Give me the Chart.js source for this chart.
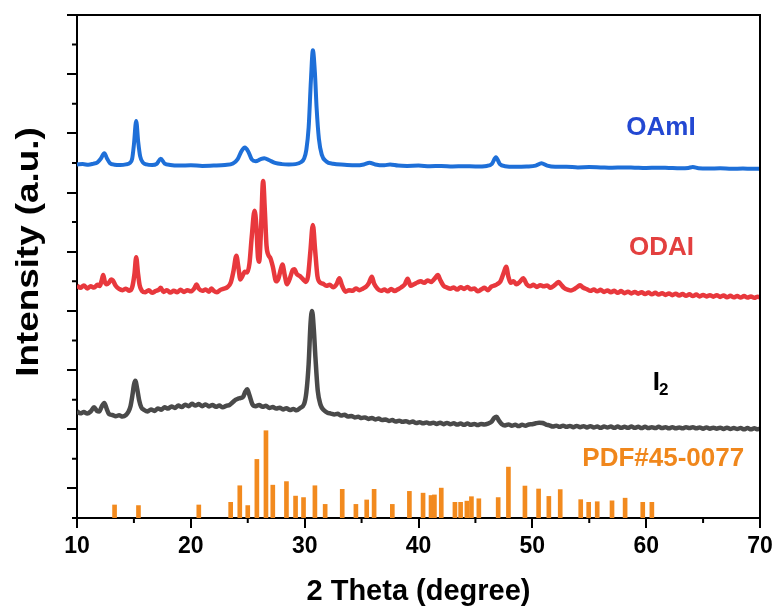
<!DOCTYPE html>
<html>
<head>
<meta charset="utf-8">
<script src="https://cdn.jsdelivr.net/npm/chart.js@4"></script>
<style>
  html, body { margin: 0; padding: 0; background: #fff; }
  #wrap { width: 778px; height: 612px; }
</style>
</head>
<body>
<div id="wrap"><canvas id="xrd"></canvas></div>
<script>
// 2θ (degree), intensity (a.u., curves offset vertically as in the figure)
const oamiPattern = [
  [10.0,1195],[10.5,1196],[11.0,1194],[11.4,1197],[11.8,1202],[12.1,1215],[12.4,1233],[12.65,1214],
  [12.9,1199],[13.3,1194],[13.8,1193],[14.3,1195],[14.65,1200],[14.85,1215],[15.0,1262],[15.2,1342],
  [15.38,1270],[15.55,1222],[15.8,1201],[16.1,1195],[16.6,1193],[17.0,1197],[17.35,1214],[17.7,1198],
  [18.2,1193],[19.0,1191],[20.0,1192],[21.0,1190],[22.0,1191],[23.0,1193],[23.7,1198],[24.1,1212],
  [24.45,1240],[24.75,1252],[25.05,1238],[25.35,1212],[25.7,1206],[26.1,1212],[26.45,1216],[26.9,1209],
  [27.4,1200],[28.0,1196],[28.6,1195],[29.2,1196],[29.7,1203],[29.95,1215],[30.15,1245],[30.35,1320],
  [30.55,1480],[30.72,1581],[30.9,1505],[31.05,1385],[31.25,1282],[31.5,1228],[31.9,1205],[32.5,1197],
  [33.5,1194],[34.5,1192],[35.2,1195],[35.7,1201],[36.2,1195],[37.0,1192],[37.5,1195],[38.2,1191],
  [39.0,1190],[40.0,1191],[41.0,1189],[42.0,1190],[43.0,1188],[44.0,1189],[45.0,1188],[46.0,1190],
  [46.45,1197],[46.8,1219],[47.15,1196],[47.6,1189],[48.5,1187],[49.5,1188],[50.3,1191],[50.8,1199],
  [51.3,1191],[52.0,1187],[53.0,1187],[54.0,1185],[55.0,1186],[56.0,1185],[57.0,1184],[58.0,1185],
  [59.0,1184],[60.0,1183],[61.0,1184],[62.0,1183],[63.0,1182],[63.7,1183],[64.1,1186],[64.6,1182],
  [65.5,1181],[66.5,1182],[67.5,1180],[68.5,1181],[69.3,1180],[70.0,1180]
];

const odaiPattern = [
  [10.0,785],[10.3,778],[10.6,786],[10.9,776],[11.2,783],[11.5,779],[11.8,788],[12.0,784],
  [12.15,800],[12.3,821],[12.45,798],[12.6,790],[12.8,795],[13.0,806],[13.15,803],[13.4,785],
  [13.7,774],[14.0,770],[14.3,775],[14.6,768],[14.85,780],[15.05,825],[15.2,881],[15.35,830],
  [15.5,787],[15.7,768],[16.0,763],[16.3,770],[16.6,761],[16.9,767],[17.2,772],
  [17.35,778],[17.6,764],[17.9,770],[18.2,762],[18.5,768],[18.8,763],[19.1,771],[19.4,764],
  [19.7,770],[20.0,766],[20.3,776],[20.5,789],[20.7,775],[21.0,768],[21.3,772],[21.6,765],
  [21.8,776],[22.0,768],[22.3,763],[22.6,771],[22.9,775],[23.2,780],[23.5,795],[23.75,835],
  [24.0,886],[24.17,850],[24.35,806],[24.5,815],[24.75,832],[24.95,830],[25.15,860],[25.35,950],
  [25.6,1038],[25.75,990],[25.9,880],[26.0,866],[26.15,960],[26.35,1139],[26.5,1040],[26.65,920],
  [26.8,890],[27.0,877],[27.2,850],[27.5,800],[27.7,810],[27.9,840],[28.05,857],[28.25,820],
  [28.45,790],[28.7,810],[28.95,838],[29.1,841],[29.3,825],[29.6,817],[29.9,805],[30.1,798],
  [30.3,818],[30.5,900],[30.72,990],[30.92,905],[31.12,818],[31.35,796],[31.6,792],[31.9,785],
  [32.2,788],[32.5,780],[32.8,790],[33.05,810],[33.3,784],[33.6,765],[33.9,770],[34.2,768],
  [34.5,776],[34.8,770],[35.1,775],[35.4,782],[35.65,795],[35.9,815],[36.1,792],[36.4,775],
  [36.7,768],[37.0,772],[37.3,766],[37.6,774],[37.9,767],[38.2,773],[38.5,780],[38.8,790],
  [39.05,809],[39.3,785],[39.6,790],[39.9,796],[40.2,800],[40.5,795],[40.8,803],[41.1,798],
  [41.4,808],[41.7,821],[41.9,805],[42.2,785],[42.5,779],[42.8,775],[43.1,779],[43.4,772],
  [43.7,780],[44.0,774],[44.3,781],[44.6,773],[44.9,776],[45.2,766],[45.5,772],[45.8,778],
  [46.1,770],[46.4,782],[46.7,786],[46.9,790],[47.2,800],[47.5,830],[47.7,849],[47.9,815],
  [48.1,795],[48.35,800],[48.6,790],[48.9,798],[49.2,810],[49.5,790],[49.8,783],[50.1,788],
  [50.4,781],[50.7,787],[51.0,783],[51.3,786],[51.6,778],[51.9,785],[52.1,792],[52.3,798],
  [52.5,790],[52.8,777],[53.1,772],[53.4,769],[53.7,774],[54.0,782],[54.2,787],[54.45,779],
  [54.8,773],[55.1,768],[55.4,772],[55.7,766],[56.0,771],[56.3,764],[56.6,769],[56.9,763],
  [57.2,768],[57.5,761],[57.8,767],[58.1,760],[58.4,765],[58.7,759],[59.0,764],[59.3,758],
  [59.6,763],[59.9,757],[60.2,762],[60.5,756],[60.8,761],[61.1,755],[61.4,760],[61.7,754],
  [62.0,759],[62.3,753],[62.6,758],[62.9,752],[63.2,757],[63.5,751],[63.8,756],[64.1,750],
  [64.4,755],[64.7,749],[65.0,754],[65.3,749],[65.6,753],[65.9,748],[66.2,753],[66.5,747],
  [66.8,752],[67.1,746],[67.4,751],[67.7,746],[68.0,750],[68.3,745],[68.6,750],[68.9,745],
  [69.2,749],[69.5,744],[69.8,748],[70.0,746]
];

const iodinePattern = [
  [10.0,360],[10.3,354],[10.6,358],[10.9,353],[11.2,360],[11.5,374],[11.75,362],[11.95,360],
  [12.15,375],[12.4,389],[12.6,370],[12.8,352],[13.1,348],[13.4,344],[13.7,347],[14.0,343],
  [14.3,348],[14.5,358],[14.7,378],[14.87,415],[15.0,450],[15.12,464],[15.28,438],[15.45,400],
  [15.65,374],[15.9,365],[16.2,360],[16.5,367],[16.8,362],[17.1,370],[17.4,366],[17.7,374],[18.0,370],
  [18.3,377],[18.6,372],[18.9,380],[19.2,375],[19.5,383],[19.8,378],[20.1,386],[20.4,380],
  [20.7,385],[21.0,378],[21.3,384],[21.6,377],[21.9,382],[22.2,376],[22.5,380],[22.8,374],
  [23.1,379],[23.4,382],[23.7,392],[23.95,400],[24.2,404],[24.4,406],[24.6,410],[24.8,428],
  [24.95,435],[25.15,415],[25.4,385],[25.7,378],[26.0,382],[26.3,376],[26.6,379],[26.9,372],
  [27.2,375],[27.5,370],[27.8,373],[28.1,367],[28.4,371],[28.7,365],[29.0,368],[29.3,364],
  [29.6,372],[29.95,385],[30.15,425],[30.35,520],[30.52,660],[30.65,700],[30.8,640],[30.95,540],
  [31.15,430],[31.4,382],[31.7,364],[32.0,356],[32.3,353],[32.6,350],[32.9,352],[33.2,346],
  [33.5,349],[33.8,343],[34.1,345],[34.4,340],[34.7,342],[35.0,338],[35.3,340],[35.6,335],
  [35.9,338],[36.2,333],[36.5,336],[36.8,331],[37.1,333],[37.4,328],[37.7,331],[38.0,326],
  [38.3,329],[38.6,325],[38.9,327],[39.2,323],[39.5,326],[39.8,321],[40.1,324],[40.4,320],
  [40.7,323],[41.0,319],[41.3,322],[41.6,318],[41.9,322],[42.2,317],[42.5,321],[42.8,317],
  [43.1,320],[43.4,316],[43.7,319],[44.0,315],[44.3,319],[44.6,315],[44.9,318],[45.2,314],
  [45.5,318],[45.8,316],[46.1,319],[46.4,325],[46.65,338],[46.85,342],[47.05,330],[47.3,318],
  [47.6,313],[47.9,316],[48.2,312],[48.5,315],[48.8,311],[49.1,315],[49.4,312],[49.7,316],
  [50.0,317],[50.3,320],[50.6,322],[50.9,321],[51.2,316],[51.5,313],[51.8,309],[52.1,312],
  [52.4,308],[52.7,312],[53.0,308],[53.3,311],[53.6,307],[53.9,311],[54.2,307],[54.5,310],
  [54.8,306],[55.1,310],[55.4,306],[55.7,309],[56.0,305],[56.3,309],[56.6,306],[56.9,309],
  [57.2,305],[57.5,309],[57.8,305],[58.1,308],[58.4,305],[58.7,309],[59.0,305],[59.3,308],
  [59.6,304],[59.9,308],[60.2,304],[60.5,307],[60.8,304],[61.1,308],[61.4,304],[61.7,307],
  [62.0,303],[62.3,307],[62.6,303],[62.9,306],[63.2,303],[63.5,307],[63.8,304],[64.1,307],
  [64.4,303],[64.7,306],[65.0,302],[65.3,306],[65.6,302],[65.9,305],[66.2,302],[66.5,305],
  [66.8,301],[67.1,305],[67.4,301],[67.7,304],[68.0,301],[68.3,304],[68.6,300],[68.9,304],
  [69.2,300],[69.5,303],[69.8,300],[70.0,302]
];

// reference card PDF#45-0077: 2θ, relative intensity
const pdfPeaks = [
  [13.3,44],[15.4,42],[20.7,44],[23.5,53],[24.3,109],[25.0,42],[25.8,198],[26.6,295],
  [27.2,111],[28.4,123],[29.2,74],[29.9,69],[30.9,109],[31.8,46],[33.3,97],[34.5,46],
  [35.45,61],[36.1,97],[37.7,46],[39.2,90],[40.4,84],[41.1,76],[41.4,78],[42.0,101],
  [43.2,53],[43.7,53],[44.25,57],[44.65,72],[45.3,65],[47.0,69],[47.9,172],[49.35,108],
  [50.55,98],[51.45,73],[52.45,96],[54.25,62],[54.95,53],[55.7,55],[57.0,58],[58.15,67],
  [59.7,53],[60.5,53]
];

const xMinorTicks = [15, 25, 35, 45, 55, 65];
const yMajorTicks = [100, 300, 500, 700, 900, 1100, 1300, 1500, 1700];
const yMinorTicks = [0, 200, 400, 600, 800, 1000, 1200, 1400, 1600];

const FONT = '"Liberation Sans", Arial, Helvetica, sans-serif';
const toXY = arr => arr.map(p => ({ x: p[0], y: p[1] }));

// 枠線・副目盛り・系列ラベル
const decorPlugin = {
  id: 'decor',
  afterDraw(chart) {
    const { ctx, chartArea: a, scales: { x, y } } = chart;
    ctx.save();
    ctx.strokeStyle = '#000';
    ctx.lineWidth = 2;
    ctx.beginPath();
    ctx.moveTo(a.left - 1, a.top);
    ctx.lineTo(a.right, a.top);
    ctx.lineTo(a.right, a.bottom + 1);
    xMinorTicks.forEach(v => {
      const px = x.getPixelForValue(v);
      ctx.moveTo(px, a.bottom);
      ctx.lineTo(px, a.bottom + 5);
    });
    yMinorTicks.forEach(v => {
      const py = y.getPixelForValue(v);
      ctx.moveTo(a.left, py);
      ctx.lineTo(a.left - 5, py);
    });
    ctx.stroke();

    ctx.textAlign = 'center';
    ctx.textBaseline = 'middle';
    ctx.font = 'bold 26px ' + FONT;
    ctx.fillStyle = '#2348d2';
    ctx.fillText('OAmI', x.getPixelForValue(61.3), y.getPixelForValue(1318));
    ctx.fillStyle = '#e3403f';
    ctx.fillText('ODAI', x.getPixelForValue(61.35), y.getPixelForValue(914));
    ctx.fillStyle = '#f0871c';
    ctx.fillText('PDF#45-0077', x.getPixelForValue(61.5), y.getPixelForValue(199));
    ctx.fillStyle = '#000';
    ctx.fillText('I', x.getPixelForValue(60.9), y.getPixelForValue(458));
    ctx.font = 'bold 17px ' + FONT;
    ctx.fillText('2', x.getPixelForValue(61.55), y.getPixelForValue(432));

    // y軸タイトル
    ctx.translate(29, 252);
    ctx.rotate(-Math.PI / 2);
    ctx.scale(1.15, 1);
    ctx.font = 'bold 32px ' + FONT;
    ctx.fillText('Intensity (a.u.)', 0, 0);
    ctx.restore();
  }
};

const ctx = document.getElementById('xrd').getContext('2d');
new Chart(ctx, {
  type: 'line',
  data: {
    datasets: [
      {
        label: 'OAmI',
        data: toXY(oamiPattern),
        borderColor: '#1e6fd8',
        borderWidth: 4,
        pointRadius: 0,
        cubicInterpolationMode: 'monotone',
        fill: false
      },
      {
        label: 'ODAI',
        data: toXY(odaiPattern),
        borderColor: '#e8383d',
        borderWidth: 4.5,
        pointRadius: 0,
        cubicInterpolationMode: 'monotone',
        fill: false
      },
      {
        label: 'I2',
        data: toXY(iodinePattern),
        borderColor: '#4a4a4a',
        borderWidth: 4.5,
        pointRadius: 0,
        cubicInterpolationMode: 'monotone',
        fill: false
      },
      {
        type: 'bar',
        label: 'PDF#45-0077',
        data: toXY(pdfPeaks),
        backgroundColor: '#f28a1e',
        barThickness: 4,
        borderWidth: 0
      }
    ]
  },
  options: {
    animation: false,
    responsive: true,
    maintainAspectRatio: false,
    layout: { padding: { top: 15, right: 18, left: 0, bottom: 0 } },
    plugins: {
      legend: { display: false },
      tooltip: { enabled: false }
    },
    scales: {
      x: {
        type: 'linear',
        min: 10,
        max: 70,
        offset: false,
        afterFit: scale => { scale.height = 94; },
        grid: { drawOnChartArea: false, drawTicks: true, tickLength: 10, color: '#000', lineWidth: 2, offset: false },
        border: { display: true, color: '#000', width: 2 },
        ticks: {
          stepSize: 10,
          padding: 5,
          color: '#000',
          font: { family: FONT, size: 23, weight: 'bold' }
        },
        title: {
          display: true,
          text: '2 Theta (degree)',
          color: '#000',
          padding: { top: 0, bottom: 3 },
          font: { family: FONT, size: 29, weight: 'bold' }
        }
      },
      y: {
        type: 'linear',
        min: 0,
        max: 1700,
        afterFit: scale => { scale.width = 77; },
        afterBuildTicks: scale => { scale.ticks = yMajorTicks.map(v => ({ value: v })); },
        grid: { drawOnChartArea: false, drawTicks: true, tickLength: 10, color: '#000', lineWidth: 2 },
        border: { display: true, color: '#000', width: 2 },
        ticks: { display: false }
      }
    }
  },
  plugins: [decorPlugin]
});
</script>
</body>
</html>
